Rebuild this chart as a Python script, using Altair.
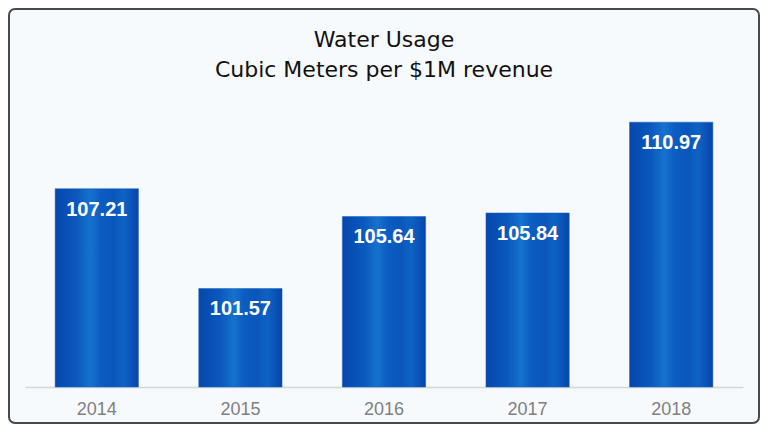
import altair as alt
import pandas as pd

years = ["2014", "2015", "2016", "2017", "2018"]
values = [107.21, 101.57, 105.64, 105.84, 110.97]
labels = ["107.21", "101.57", "105.64", "105.84", "110.97"]
y_min = 96
y_max = 112

df = pd.DataFrame({"year": years, "value": values, "label": labels})

W, H = 718, 283
PAD = {"left": 17, "right": 17, "top": 96, "bottom": 37}

grad = alt.Gradient(
    gradient="linear",
    stops=[
        alt.GradientStop(color="#0747ad", offset=0.0),
        alt.GradientStop(color="#0a57bd", offset=0.25),
        alt.GradientStop(color="#1672cd", offset=0.42),
        alt.GradientStop(color="#0b5cc1", offset=0.55),
        alt.GradientStop(color="#0a56bb", offset=0.7),
        alt.GradientStop(color="#0e63c4", offset=0.82),
        alt.GradientStop(color="#0745ab", offset=1.0),
    ],
    x1=0, x2=1, y1=0, y2=0,
)

xenc = alt.X(
    "year:N",
    sort=years,
    scale=alt.Scale(paddingInner=0.42, paddingOuter=0.21),
    axis=alt.Axis(
        title=None, labelAngle=0, ticks=False, labelFontSize=18,
        labelColor="#808080", labelFont="Liberation Sans",
        domainColor="#d4d6d9", domainWidth=1.5, labelPadding=13, grid=False,
    ),
)
yscale = alt.Scale(domain=[y_min, y_max], nice=False, zero=False)

base = alt.Chart(df)

bars = base.mark_bar(color=grad, stroke="#1060c0", strokeWidth=0.5).encode(
    x=xenc,
    y=alt.Y("value:Q", scale=yscale, axis=None),
    y2=alt.datum(y_min),
)

text = base.mark_text(
    color="white", fontWeight="bold", fontSize=20, font="Liberation Sans",
    baseline="alphabetic", dy=27,
).encode(
    x=alt.X("year:N", sort=years),
    y=alt.Y("value:Q", scale=yscale),
    text="label:N",
)

frame = alt.Chart(pd.DataFrame({"a": [0]})).mark_rect(
    fill=None, stroke="#4a4a4a", strokeWidth=2, cornerRadius=6,
).encode(
    x=alt.value(-PAD["left"] + 1),
    x2=alt.value(W + PAD["right"] - 1),
    y=alt.value(-PAD["top"] + 1),
    y2=alt.value(H + PAD["bottom"] - 1),
)

chart = alt.layer(bars, text, frame).properties(
    width=W,
    height=H,
    padding=PAD,
    autosize=alt.AutoSizeParams(type="none"),
    background="#f7fafd",
    title=alt.TitleParams(
        text=["Water Usage", "Cubic Meters per $1M revenue"],
        fontSize=22, fontWeight="normal", font="DejaVu Sans",
        color="#111111", lineHeight=30.5, offset=0, dy=74, anchor="middle",
        frame="group",
    ),
).configure_view(stroke=None)

chart.save("out.html", embed_options={"renderer": "svg", "actions": False})
